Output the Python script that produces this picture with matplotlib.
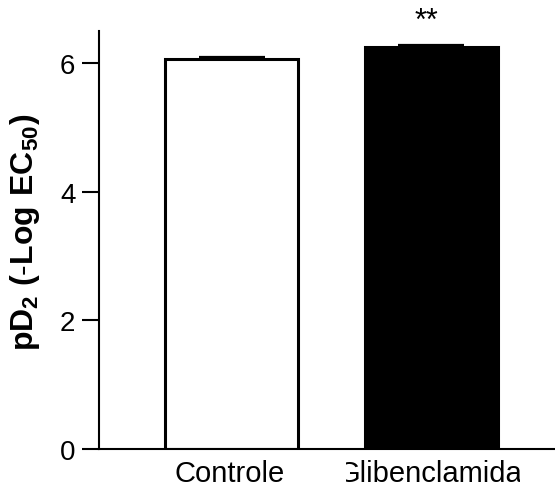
import matplotlib
matplotlib.use("Agg")
import matplotlib.pyplot as plt
from matplotlib.transforms import Bbox

plt.rcParams['font.family'] = ['Liberation Sans', 'DejaVu Sans']
plt.rcParams['mathtext.fontset'] = 'custom'
plt.rcParams['mathtext.rm'] = 'Liberation Sans'
plt.rcParams['mathtext.bf'] = 'Liberation Sans:bold'

groups = ["Controle", "Glibenclamida"]
pd2_mean = [6.07, 6.25]
pd2_sem = [0.02, 0.04]
bar_faces = ["white", "black"]
significance = ["", "**"]
y_ticks = [0, 2, 4, 6]

W, H, DPI = 555, 489, 100
fig = plt.figure(figsize=(W / DPI, H / DPI), dpi=DPI)
ax = fig.add_axes([99 / W, 39 / H, 1 - 99 / W, (450 - 32) / H])

x = list(range(len(groups)))
ax.bar(x, pd2_mean, width=0.667, color=bar_faces, edgecolor="black",
       linewidth=2.2, zorder=2)
# upper half of the SEM bars only
ax.errorbar(x, pd2_mean, yerr=[[0, 0], pd2_sem], fmt="none", ecolor="black",
            elinewidth=1.5, capsize=24, capthick=1.6, zorder=3)

for xi, m, s, sig in zip(x, pd2_mean, pd2_sem, significance):
    if sig:
        ax.text(xi - 0.025, m + s + 0.365, sig, ha="center", va="center",
                fontsize=22, clip_on=False)

ax.set_xlim(-0.667, 1.62)
ax.set_ylim(0, 6.5)
ax.set_yticks(y_ticks)
ax.tick_params(axis="y", labelsize=20, width=1.5, length=12, pad=5)
ax.tick_params(axis="x", length=0)
ax.set_xticks([])

for side in ("top", "right"):
    ax.spines[side].set_visible(False)
for side in ("left", "bottom"):
    ax.spines[side].set_linewidth(1.5)

# category labels, each clipped to its own slot under the axis
slots = [(140, 330), (346, 520)]
for xi, name, (x0, x1) in zip(x, groups, slots):
    t = ax.text(xi - 0.01, -0.5, name, ha="center", va="baseline",
                fontsize=21, clip_on=True)
    t.set_clip_box(Bbox([[x0, 0], [x1, H]]))

ax.set_ylabel(r"$\mathbf{pD_2}$ $\mathbf{(\text{-}Log\ EC_{50})}$",
              fontsize=23, labelpad=14)
ax.yaxis.set_label_coords(-0.125, 0.52)

fig.savefig("out.png", dpi=DPI)
